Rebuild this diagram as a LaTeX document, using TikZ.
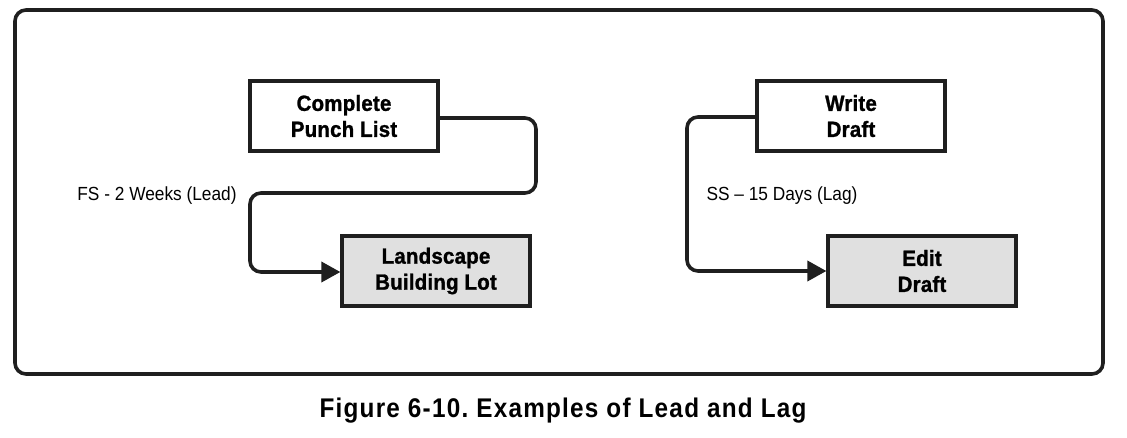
\documentclass[tikz,border=0pt]{standalone}
\usepackage{fontspec}
\setmainfont{Liberation Sans}
\newfontfamily\taskfont[FakeStretch=0.93,FakeBold=1.2,LetterSpace=1]{Liberation Sans Bold}
\newfontfamily\capfont[FakeStretch=0.9,LetterSpace=4.6]{Liberation Sans Bold}
\newfontfamily\labelfont[FakeStretch=0.91]{Liberation Sans}
\usetikzlibrary{arrows.meta}
\frenchspacing
\begin{document}
\begin{tikzpicture}[x=1pt,y=-1pt,
  task/.style={draw=black!88, line width=3.2pt, minimum width=188pt, minimum height=70pt,
    align=center, font=\taskfont\fontsize{22}{26}\selectfont, inner sep=0pt},
  done/.style={task, fill=black!12},
  link/.style={draw=black!88, line width=3.6pt, rounded corners=11pt,
    -{Triangle[length=19pt,width=20pt]}},
  lagtext/.style={font=\labelfont\fontsize{19}{22}\selectfont, inner sep=0pt}]
\useasboundingbox (0,0) rectangle (1127,437);
% outer frame
\draw[draw=black!88, line width=3.6pt, rounded corners=11pt] (15,10) rectangle (1103,374);
% finish-to-start with lead
\node[task] (punch) at (344,116) {Complete\\Punch List};
\node[done] (land) at (436,271) {Landscape\\Building Lot};
\coordinate (fsA) at (536,193);
\draw[link] (punch.east |- 0,118) -| (fsA) -| (250,272) -- (land.west |- 0,272);
\node[lagtext] (fslbl) at (157,196) {FS - 2 Weeks (Lead)};
% start-to-start with lag
\node[task] (write) at (851,116) {Write\\Draft};
\node[done] (edit) at (922,271) {Edit\\Draft};
\draw[link] (write.west |- 0,117) -| (687,200) |- (edit.west |- 0,271);
\node[lagtext] (sslbl) at (782,196) {SS – 15 Days (Lag)};
% caption
\node[font=\capfont\fontsize{27}{30}\selectfont, inner sep=0pt] (cap) at (563,411) {Figure 6-10. Examples of Lead and Lag};
\end{tikzpicture}
\end{document}
